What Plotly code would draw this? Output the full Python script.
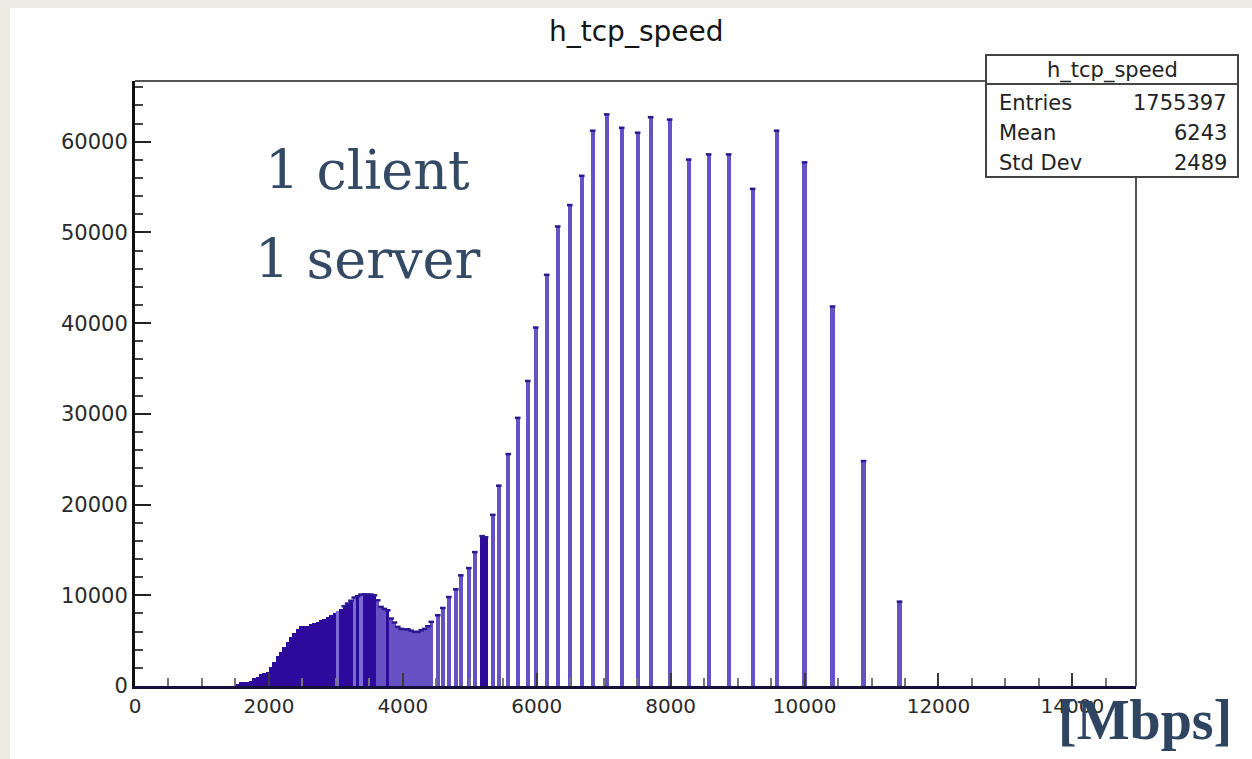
import plotly.graph_objects as go

# ---- histogram content: h_tcp_speed (bin width 50 Mbps) ----
# dense part of the distribution, bin centres [Mbps] and counts
dense_x = [1525, 1575, 1625, 1675, 1725, 1775, 1825, 1875, 1925, 1975,
           2025, 2075, 2125, 2175, 2225, 2275, 2325, 2375, 2425, 2475,
           2525, 2575, 2625, 2675, 2725, 2775, 2825, 2875, 2925, 2975,
           3025, 3075, 3125, 3175, 3225, 3275, 3325, 3375, 3425, 3475,
           3525, 3575, 3625, 3675, 3725, 3775, 3825, 3875, 3925, 3975,
           4025, 4075, 4125, 4175, 4225, 4275, 4325, 4375, 4425]
dense_y = [200, 450, 470, 480, 500, 880, 950, 1300, 1400, 1570,
           2090, 2670, 3300, 3770, 4250, 4870, 5420, 5860, 6260, 6590,
           6600, 6620, 6890, 6950, 7100, 7250, 7400, 7620, 7800, 8100,
           8300, 8540, 8800, 9090, 9400, 9750, 9900, 10080, 10100, 10100,
           10080, 10000, 9450, 8720, 8500, 8350, 7440, 7000, 6520, 6300,
           6260, 6260, 6100, 5970, 5970, 6150, 6300, 6590, 7070]

# isolated, quantised speed values above ~4.5 Gbps
spike_x = [4522, 4597, 4687, 4791, 4866, 4985, 5075, 5185, 5235, 5343,
           5433, 5575, 5716, 5866, 5985, 6149, 6313, 6493, 6672, 6836,
           7045, 7269, 7507, 7701, 7985, 8269, 8567, 8866, 9224, 9582,
           10000, 10418, 10881, 11418]
spike_y = [7800, 8600, 9810, 10660, 12200, 13000, 14760, 16520, 16400, 18870,
           22090, 25570, 29560, 33630, 39520, 45330, 50660, 53020, 56250, 61220,
           63020, 61540, 61000, 62710, 62450, 58040, 58610, 58610, 54810, 61220,
           57730, 41840, 24800, 9300]

# statistics box
stats_title = "h_tcp_speed"
stats_rows = [("Entries", "1755397"), ("Mean", "6243"), ("Std Dev", "2489")]

x_ticks = [0, 2000, 4000, 6000, 8000, 10000, 12000, 14000]
y_ticks = [0, 10000, 20000, 30000, 40000, 50000, 60000]

# ---- page geometry (pixels) ----
W, H = 1252, 759
L, R, T, B = 135, 1136, 81, 686


def fx(xp):
    return (xp - L) / (R - L)


def fy(yp):
    return (B - yp) / (B - T)


DARK = "#2d0a9c"
LIGHT = "#6652c4"
PALE = "#7c6bd0"
CAP = "#2a1890"

dense_colors = []
for xc in dense_x:
    if xc in (3025, 3275, 3375):
        dense_colors.append(PALE)
    elif xc == 3775:
        dense_colors.append(DARK)
    elif xc < 3600:
        dense_colors.append(DARK)
    else:
        dense_colors.append(LIGHT)

spike_colors = [DARK if xc in (5185, 5235) else LIGHT for xc in spike_x]

fig = go.Figure()
fig.add_trace(go.Bar(x=dense_x, y=dense_y, width=50,
                     marker=dict(color=dense_colors, line=dict(width=0)),
                     showlegend=False, hoverinfo="x+y"))
fig.add_trace(go.Bar(x=spike_x, y=spike_y, width=62,
                     marker=dict(color=spike_colors, line=dict(width=0)),
                     showlegend=False, hoverinfo="x+y"))
# dark caps on each bin top (ROOT outline)
fig.add_trace(go.Scatter(x=dense_x[32:] + spike_x, y=dense_y[32:] + spike_y,
                         mode="markers",
                         marker=dict(symbol="line-ew", size=4,
                                     line=dict(width=2.5, color=CAP)),
                         showlegend=False, hoverinfo="skip"))

x_font = dict(family="DejaVu Sans", size=20, color="#2a2a2a")
y_font = dict(family="DejaVu Sans", size=21, color="#2a2a2a")

fig.update_xaxes(range=[0, 14950], showline=True, linecolor="#15103c", linewidth=3,
                 ticks="inside", ticklen=13, tickwidth=2, tickcolor="#3a3a3a",
                 tickvals=x_ticks, ticktext=[str(v) for v in x_ticks],
                 tickfont=x_font, showgrid=False, zeroline=False,
                 minor=dict(ticks="inside", ticklen=8, tickwidth=2,
                            tickcolor="#777777", dtick=500, tick0=0, showgrid=False))
fig.update_yaxes(range=[0, 66700], showline=True, linecolor="#111111", linewidth=3,
                 ticks="inside", ticklen=16, tickwidth=1.5, tickcolor="#222222",
                 tickvals=y_ticks, ticktext=[str(v) for v in y_ticks],
                 tickfont=y_font, showgrid=False, zeroline=False,
                 minor=dict(ticks="inside", ticklen=8, tickwidth=1.5,
                            tickcolor="#444444", dtick=2000, tick0=0, showgrid=False))

shapes = [
    # white canvas on the beige page
    dict(type="rect", xref="paper", yref="paper", x0=fx(10), x1=fx(W + 5),
         y0=fy(H + 5), y1=fy(8), fillcolor="white", line=dict(width=0), layer="below"),
    # frame top and right edges
    dict(type="line", xref="paper", yref="paper", x0=0, x1=1, y0=1, y1=1,
         line=dict(color="#555555", width=2), layer="above"),
    dict(type="line", xref="paper", yref="paper", x0=1, x1=1, y0=0, y1=1,
         line=dict(color="#555555", width=2), layer="above"),
    # statistics box
    dict(type="rect", xref="paper", yref="paper", x0=fx(986), x1=fx(1238),
         y0=fy(177), y1=fy(55), fillcolor="white",
         line=dict(color="#444444", width=2), layer="above"),
    dict(type="line", xref="paper", yref="paper", x0=fx(986), x1=fx(1238),
         y0=fy(84), y1=fy(84), line=dict(color="#444444", width=2), layer="above"),
]


def note(text, xp, yp, font, xanchor="center"):
    return dict(text=text, x=fx(xp), y=fy(yp), xref="paper", yref="paper",
                xanchor=xanchor, yanchor="middle", showarrow=False, font=font)


stat_font = dict(family="DejaVu Sans", size=21, color="#222222")
serif = dict(family="DejaVu Serif", size=54, color="#344a64")
annotations = [
    note("h_tcp_speed", 636, 31, dict(family="DejaVu Sans", size=28, color="#151515")),
    note(stats_title, 1112, 70, stat_font),
    note("1 client", 367, 170, serif),
    note("1 server", 367, 259, serif),
    note("<b>[Mbps]</b>", 1145, 720,
         dict(family="Liberation Serif", size=56, color="#2e4460")),
]
for i, (name, val) in enumerate(stats_rows):
    annotations.append(note(name, 997, 103 + 30 * i, stat_font, "left"))
    annotations.append(note(val, 1229, 103 + 30 * i, stat_font, "right"))

fig.update_layout(width=W, height=H,
                  margin=dict(l=L, r=W - R, t=T, b=H - B),
                  paper_bgcolor="#efebe5", plot_bgcolor="white",
                  barmode="overlay", bargap=0,
                  shapes=shapes, annotations=annotations)

fig.write_html("out.html")
